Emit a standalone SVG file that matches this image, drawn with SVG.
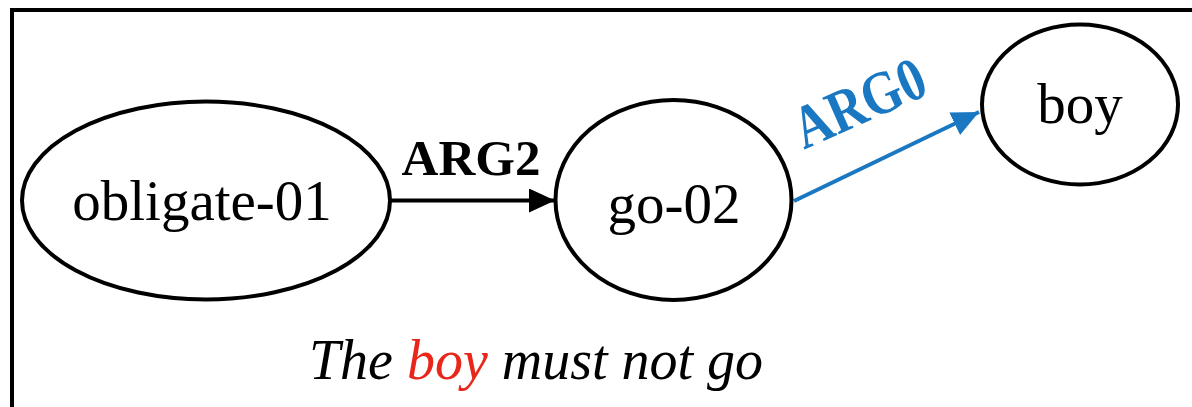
<svg xmlns="http://www.w3.org/2000/svg" width="1192" height="407" viewBox="0 0 1192 407">
<defs>
<style>
.node{fill:#fff;stroke:#000;stroke-width:4}
.lbl{font-family:"Liberation Serif","Times New Roman",serif;font-size:57px;fill:#000;text-anchor:middle}
.elbl{font-family:"Liberation Serif","Times New Roman",serif;font-size:51px;font-weight:bold;text-anchor:middle}
.edge{fill:none;stroke-width:4}
</style>
<marker id="ahBlack" markerUnits="userSpaceOnUse" viewBox="0 0 26 24" refX="26" refY="12" markerWidth="26" markerHeight="24" orient="auto">
<path d="M0,0 L26,12 L0,24 Z" fill="#000"/>
</marker>
<marker id="ahBlue" markerUnits="userSpaceOnUse" viewBox="0 0 27 25" refX="27" refY="12.5" markerWidth="27" markerHeight="25" orient="auto">
<path d="M0,0 L27,12.5 L0,25 Z" fill="#1a78c2"/>
</marker>
</defs>
<rect x="0" y="0" width="1192" height="407" fill="#fff"/>
<rect x="12" y="10" width="1200" height="420" fill="none" stroke="#000" stroke-width="4"/>
<g id="connectors">
<g id="edge-arg2">
<line class="edge" x1="390" y1="200.5" x2="555" y2="200.5" stroke="#000" marker-end="url(#ahBlack)"/>
<text class="elbl" x="471" y="175" fill="#000">ARG2</text>
</g>
<g id="edge-arg0">
<line class="edge" x1="794" y1="201" x2="979" y2="112" stroke="#1a78c2" marker-end="url(#ahBlue)"/>
<text class="elbl" x="0" y="0" font-size="49" fill="#1a78c2" transform="translate(867.5 121.5) rotate(-24) scale(1 1.2)">ARG0</text>
</g>
</g>
<g id="node-obligate">
<ellipse class="node" cx="206" cy="200.5" rx="184" ry="99"/>
<text class="lbl" x="202" y="220">obligate-01</text>
</g>
<g id="node-go">
<ellipse class="node" cx="673.5" cy="200" rx="118" ry="100"/>
<text class="lbl" x="674" y="223">go-02</text>
</g>
<g id="node-boy">
<ellipse class="node" cx="1080" cy="104.5" rx="98" ry="80"/>
<text class="lbl" x="1080" y="123">boy</text>
</g>
<g id="sentence">
<text x="536" y="379" font-family="'Liberation Serif','Times New Roman',serif" font-size="56" font-style="italic" text-anchor="middle" fill="#000">The <tspan fill="#e8261a">boy</tspan> must not go</text>
</g>
</svg>
